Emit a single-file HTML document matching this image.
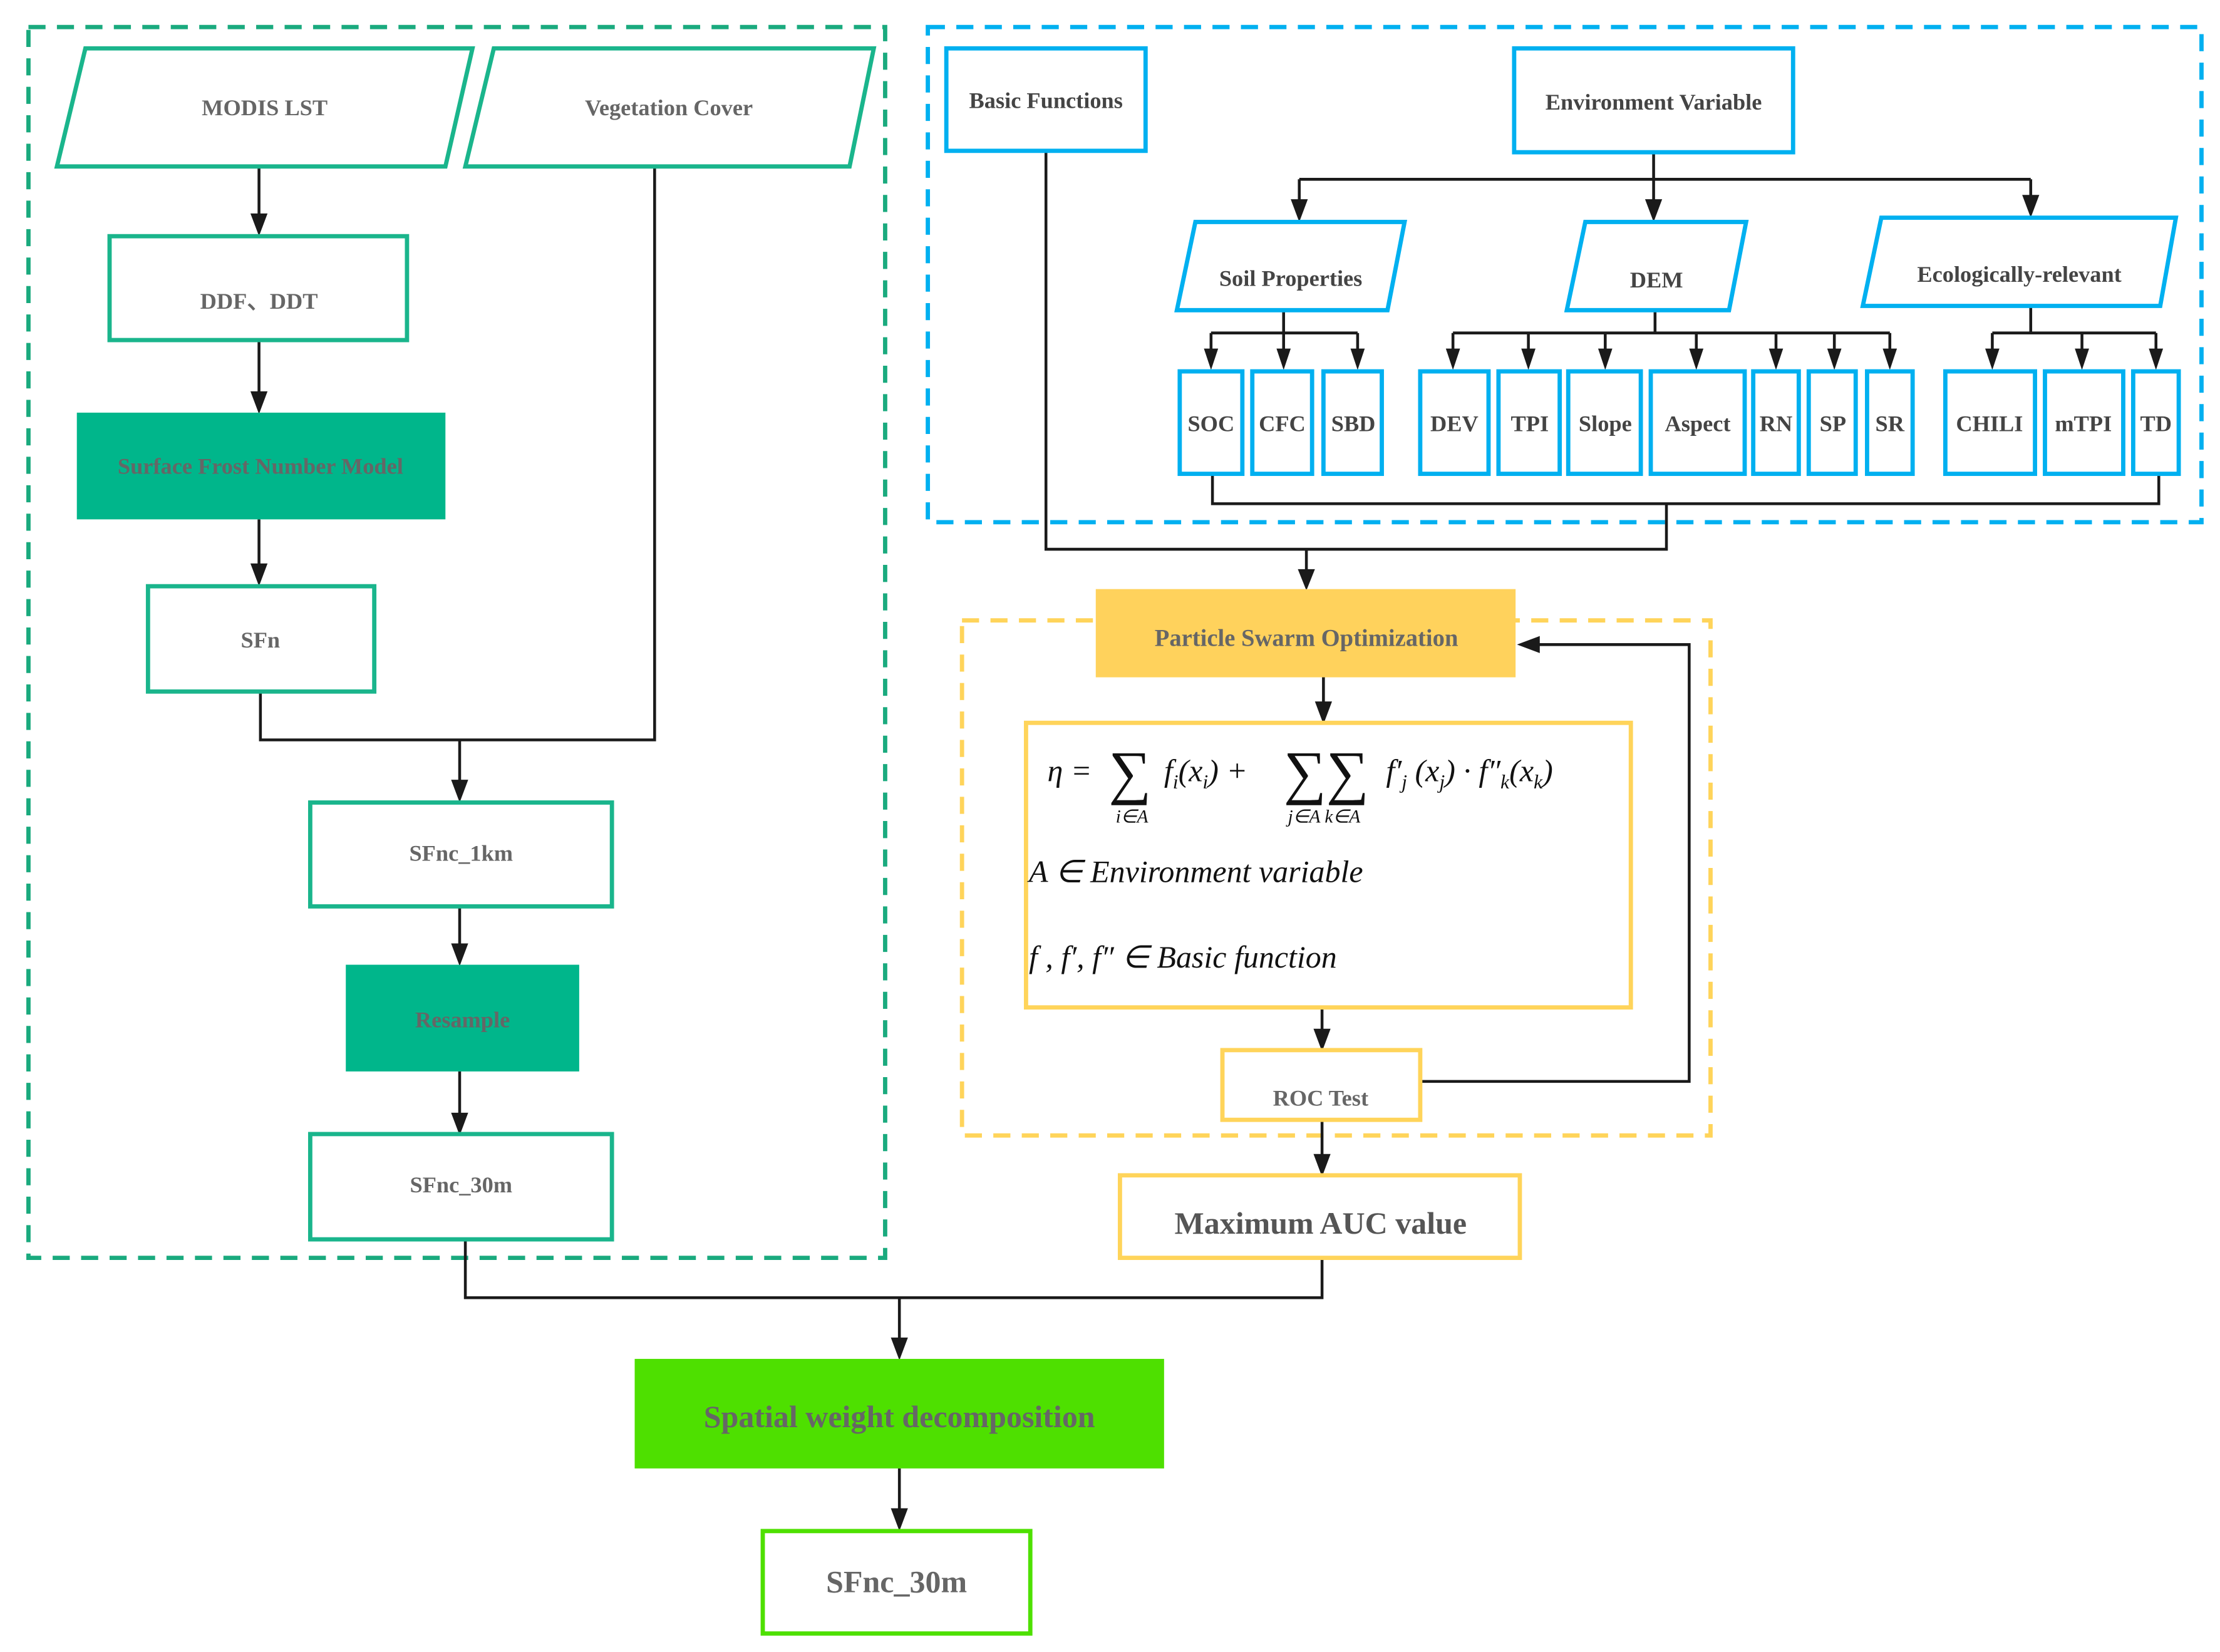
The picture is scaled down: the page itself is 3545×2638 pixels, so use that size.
<!DOCTYPE html>
<html><head><meta charset="utf-8"><style>
html,body{margin:0;padding:0;background:#fff;}
svg{display:block;}
text{font-family:"Liberation Serif",serif;font-weight:bold;fill:#666;text-anchor:middle;}
.m{font-style:italic;font-weight:normal;fill:#111;text-anchor:start;}
</style></head><body>
<svg width="3545" height="2638" viewBox="0 0 1560 1161" preserveAspectRatio="none" xmlns="http://www.w3.org/2000/svg">
<style>
.ln{stroke:#1a1a1a;stroke-width:2;fill:none;}
.ah{fill:#1a1a1a;}
</style>
<rect x="20" y="19" width="602" height="865" fill="none" stroke="#1aaa7e" stroke-width="3" stroke-dasharray="12,8"/>
<rect x="652" y="19" width="895" height="348" fill="none" stroke="#00b0f0" stroke-width="3" stroke-dasharray="12,8"/>
<rect x="676" y="436" width="526" height="362" fill="none" stroke="#ffd45a" stroke-width="3" stroke-dasharray="12,8"/>

<g class="ln">
<path d="M182 117V156M182 239V281M182 365V402M183 486V520H460V117M323 520V554M323 637V669M323 753V788"/>
<path d="M327 871V912H929V884M632 912V946M632 1032V1066"/>
<path d="M1162 107V126M913 126H1427M913 126V146M1162 126V146M1427 126V143"/>
<path d="M902 218V234M851 234H954M851 234V251M902 234V251M954 234V251"/>
<path d="M1163 218V234M1021 234H1328M1021 234V251M1074 234V251M1128 234V251M1192 234V251M1248 234V251M1289 234V251M1328 234V251"/>
<path d="M1427 215V234M1400 234H1515M1400 234V251M1463 234V251M1515 234V251"/>
<path d="M852 333V354H1517V333M1171 354V386H735V107M918 386V405"/>
<path d="M930 476V499M929 708V729M998 760H1187V453H1076M929 787V817"/>
</g>
<g class="ah">
<path d="M176 150h12l-6 16z"/><path d="M176 275h12l-6 16z"/><path d="M176 396h12l-6 16z"/>
<path d="M317 548h12l-6 16z"/><path d="M317 663h12l-6 16z"/><path d="M317 782h12l-6 16z"/>
<path d="M626 940h12l-6 16z"/><path d="M626 1060h12l-6 16z"/>
<path d="M907 140h12l-6 16z"/><path d="M1156 140h12l-6 16z"/><path d="M1421 137h12l-6 16z"/>
<path d="M846 245h10l-5 15z"/><path d="M897 245h10l-5 15z"/><path d="M949 245h10l-5 15z"/>
<path d="M1016 245h10l-5 15z"/><path d="M1069 245h10l-5 15z"/><path d="M1123 245h10l-5 15z"/><path d="M1187 245h10l-5 15z"/><path d="M1243 245h10l-5 15z"/><path d="M1284 245h10l-5 15z"/><path d="M1323 245h10l-5 15z"/>
<path d="M1395 245h10l-5 15z"/><path d="M1458 245h10l-5 15z"/><path d="M1510 245h10l-5 15z"/>
<path d="M912 400h12l-6 15z"/><path d="M924 493h12l-6 16z"/><path d="M923 723h12l-6 16z"/><path d="M923 811h12l-6 16z"/>
<path d="M1082 447v12l-16 -6z"/>
</g>

<g fill="#fff" stroke="#1ab58c" stroke-width="3">
<polygon points="60,34 332,34 313,117 40,117"/>
<polygon points="347,34 614,34 597,117 327,117"/>
<rect x="77" y="166" width="209" height="73"/>
<rect x="104" y="412" width="159" height="74"/>
<rect x="218" y="564" width="212" height="73"/>
<rect x="218" y="797" width="212" height="74"/>
</g>
<rect x="54" y="290" width="259" height="75" fill="#00b68b"/>
<rect x="243" y="678" width="164" height="75" fill="#00b68b"/>
<text x="186" y="81" font-size="16">MODIS LST</text>
<text x="470" y="81" font-size="16">Vegetation Cover</text>
<text x="182" y="217" font-size="16">DDF、DDT</text>
<text x="183" y="333" font-size="16">Surface Frost Number Model</text>
<text x="183" y="455" font-size="16">SFn</text>
<text x="324" y="605" font-size="16">SFnc_1km</text>
<text x="325" y="722" font-size="16">Resample</text>
<text x="324" y="838" font-size="16">SFnc_30m</text>

<g fill="#fff" stroke="#00b0f0" stroke-width="3">
<rect x="665" y="34" width="140" height="72"/>
<rect x="1064" y="34" width="196" height="73"/>
<polygon points="840,156 987,156 975,218 827,218"/>
<polygon points="1114,156 1227,156 1215,218 1101,218"/>
<polygon points="1322,153 1529,153 1518,215 1309,215"/>
<rect x="829" y="261" width="44" height="72"/><rect x="880" y="261" width="42" height="72"/><rect x="930" y="261" width="41" height="72"/>
<rect x="998" y="261" width="48" height="72"/><rect x="1053" y="261" width="43" height="72"/><rect x="1102" y="261" width="51" height="72"/><rect x="1160" y="261" width="66" height="72"/><rect x="1232" y="261" width="32" height="72"/><rect x="1271" y="261" width="33" height="72"/><rect x="1312" y="261" width="32" height="72"/>
<rect x="1367" y="261" width="63" height="72"/><rect x="1437" y="261" width="55" height="72"/><rect x="1499" y="261" width="32" height="72"/>
</g>
<g font-size="16">
<text x="735" y="76" style="fill:#444">Basic Functions</text>
<text x="1162" y="77" style="fill:#444">Environment Variable</text>
<text x="907" y="201" style="fill:#444">Soil Properties</text>
<text x="1164" y="202" style="fill:#444">DEM</text>
<text x="1419" y="198" style="fill:#444">Ecologically-relevant</text>
<text x="851" y="303" style="fill:#444">SOC</text><text x="901" y="303" style="fill:#444">CFC</text><text x="951" y="303" style="fill:#444">SBD</text>
<text x="1022" y="303" style="fill:#444">DEV</text><text x="1075" y="303" style="fill:#444">TPI</text><text x="1128" y="303" style="fill:#444">Slope</text><text x="1193" y="303" style="fill:#444">Aspect</text><text x="1248" y="303" style="fill:#444">RN</text><text x="1288" y="303" style="fill:#444">SP</text><text x="1328" y="303" style="fill:#444">SR</text>
<text x="1398" y="303" style="fill:#444">CHILI</text><text x="1464" y="303" style="fill:#444">mTPI</text><text x="1515" y="303" style="fill:#444">TD</text>
</g>

<rect x="770" y="414" width="295" height="62" fill="#ffd25c"/>
<text x="918" y="454" font-size="17">Particle Swarm Optimization</text>
<g fill="#fff" stroke="#ffd45a" stroke-width="3">
<rect x="721" y="508" width="425" height="200"/>
<rect x="859" y="738" width="139" height="49"/>
<rect x="787" y="826" width="281" height="58"/>
</g>
<text x="928" y="777" font-size="16">ROC Test</text>
<text x="928" y="867" font-size="22" style="fill:#555">Maximum AUC value</text>

<g font-size="22">
<text class="m" x="736" y="549">η =</text>
<text class="m" x="779" y="557" font-size="42" style="font-style:normal">∑</text>
<text class="m" x="784" y="578" font-size="13">i∈A</text>
<text class="m" x="818" y="549">f<tspan font-size="14" dy="5">i</tspan><tspan dy="-5">(x</tspan><tspan font-size="14" dy="5">i</tspan><tspan dy="-5">) +</tspan></text>
<text class="m" x="902" y="557" font-size="42" style="font-style:normal">∑∑</text>
<text class="m" x="905" y="578" font-size="13">j∈A  k∈A</text>
<text class="m" x="974" y="549">f′<tspan font-size="14" dy="5">j</tspan><tspan dy="-5"> (x</tspan><tspan font-size="14" dy="5">j</tspan><tspan dy="-5">) · f″</tspan><tspan font-size="14" dy="5">k</tspan><tspan dy="-5">(x</tspan><tspan font-size="14" dy="5">k</tspan><tspan dy="-5">)</tspan></text>
<text class="m" x="723" y="620">A ∈ Environment variable</text>
<text class="m" x="723" y="680">f , f′, f″ ∈ Basic function</text>
</g>

<rect x="446" y="955" width="372" height="77" fill="#4ee000"/>
<text x="632" y="1003" font-size="22">Spatial weight decomposition</text>
<rect x="536" y="1076" width="188" height="72" fill="#fff" stroke="#4ee000" stroke-width="3"/>
<text x="630" y="1119" font-size="22">SFnc_30m</text>
</svg>
</body></html>
